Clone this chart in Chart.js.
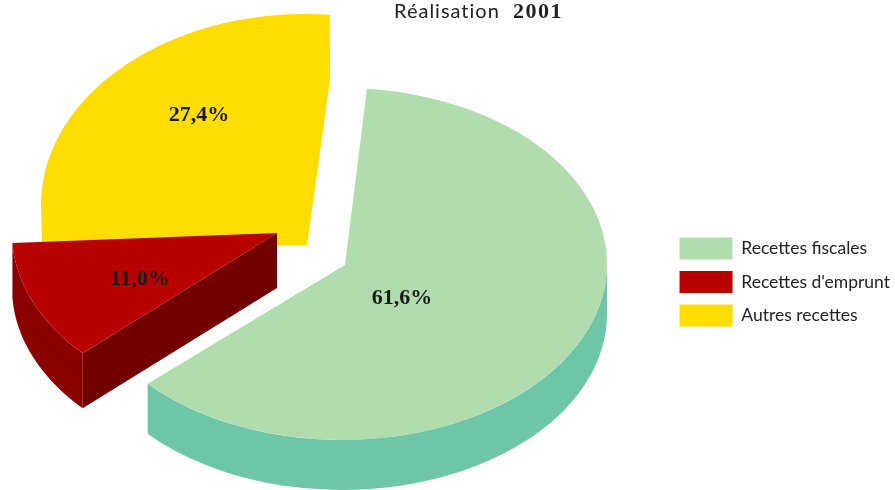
<!DOCTYPE html>
<html>
<head>
<meta charset="utf-8">
<title>Réalisation 2001</title>
<script src="https://cdn.jsdelivr.net/npm/chart.js@4"></script>
<style>
  html, body { margin: 0; background: #fff; }
  canvas { display: block; }
</style>
</head>
<body>
<canvas id="chart" width="895" height="490"></canvas>
<script>
const categories = ['Recettes fiscales', "Recettes d'emprunt", 'Autres recettes'];
const shares = [61.6, 11.0, 27.4];
const topColors = ['#b1ddae', '#b80000', '#ffdd00'];

// where each exploded slice sits on the page (same order as categories)
// via = corners walked from the end of the arc back to its start
const slices = [
  { cx: 342, cy: 264, rx: 265, ry: 176, depth: 50, wall: '#6dc6a8', via: [[345, 265]], label: [402, 298] },
  { cx: 277, cy: 233, rx: 265, ry: 177, depth: 55, wall: '#8a0000', face: '#720000', via: [[277, 233]], label: [140, 279] },
  { cx: 305, cy: 205, rx: 264, ry: 191, depth: 0, via: [[330, 80], [307, 245], [42, 245]], label: [199, 115] }
];

const explodedPie = {
  id: 'explodedPie',
  beforeDatasetDraw(chart) {
    const ctx = chart.ctx;
    const arcs = chart.getDatasetMeta(0).data;

    // back to front: yellow, red, green
    [2, 1, 0].forEach(i => {
      const s = slices[i];
      const a0 = arcs[i].startAngle;
      const a1 = arcs[i].endAngle;

      if (s.depth) {
        // outer wall, only the part facing the viewer
        const w0 = Math.max(a0, 0);
        const w1 = Math.min(a1, Math.PI);
        ctx.fillStyle = s.wall;
        ctx.beginPath();
        ctx.ellipse(s.cx, s.cy, s.rx, s.ry, 0, w0, w1);
        ctx.ellipse(s.cx, s.cy + s.depth, s.rx, s.ry, 0, w1, w0, true);
        ctx.closePath();
        ctx.fill();
      }
      if (s.face) {
        // cut face between the centre and the start of the arc
        const ex = s.cx + s.rx * Math.cos(a0);
        const ey = s.cy + s.ry * Math.sin(a0);
        ctx.fillStyle = s.face;
        ctx.beginPath();
        ctx.moveTo(s.cx, s.cy);
        ctx.lineTo(ex, ey);
        ctx.lineTo(ex, ey + s.depth);
        ctx.lineTo(s.cx, s.cy + s.depth);
        ctx.closePath();
        ctx.fill();
      }

      ctx.fillStyle = arcs[i].options.backgroundColor;
      ctx.beginPath();
      ctx.ellipse(s.cx, s.cy, s.rx, s.ry, 0, a0, a1);
      s.via.forEach(p => ctx.lineTo(p[0], p[1]));
      ctx.closePath();
      ctx.fill();
    });
    return false;
  },
  afterDatasetsDraw(chart) {
    const ctx = chart.ctx;
    ctx.save();
    ctx.fillStyle = '#1a1a1a';
    ctx.textAlign = 'center';
    ctx.textBaseline = 'middle';
    ctx.font = 'bold 22px "Liberation Serif"';
    slices.forEach((s, i) => {
      ctx.fillText(shares[i].toFixed(1).replace('.', ',') + '%', s.label[0], s.label[1]);
    });

    // title is two weights, so it is written by hand
    ctx.textAlign = 'left';
    ctx.textBaseline = 'alphabetic';
    ctx.fillStyle = '#222';
    ctx.font = '20px Lato';
    ctx.letterSpacing = '1px';
    ctx.fillText('Réalisation', 394, 18);
    ctx.font = 'bold 22px "Liberation Serif"';
    ctx.letterSpacing = '1.5px';
    ctx.fillText('2001', 513, 18);
    ctx.restore();
  }
};

new Chart(document.getElementById('chart'), {
  type: 'pie',
  data: {
    labels: categories,
    datasets: [{ data: shares, backgroundColor: topColors, borderWidth: 0 }]
  },
  options: {
    responsive: false,
    animation: false,
    rotation: 5.4,
    layout: { padding: { top: 74, right: -5 } },
    plugins: {
      tooltip: { enabled: false },
      legend: {
        position: 'right',
        labels: {
          boxWidth: 53,
          boxHeight: 22,
          padding: 11.5,
          color: '#222',
          font: { family: 'Lato', size: 17.5 }
        }
      }
    }
  },
  plugins: [explodedPie]
});
</script>
</body>
</html>
